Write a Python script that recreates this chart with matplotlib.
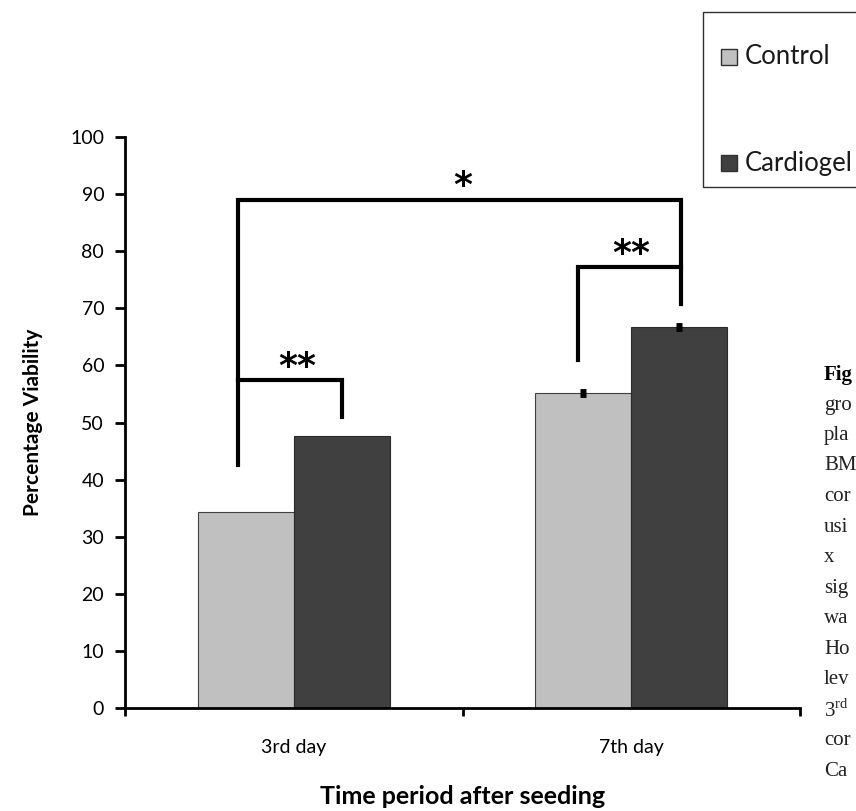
import matplotlib
matplotlib.use("Agg")
import matplotlib.pyplot as plt
import numpy as np
from matplotlib.patches import Rectangle

# values
days = ["3rd day", "7th day"]
control = [34.3, 55.2]
cardiogel = [47.6, 66.7]
control_err = [np.nan, 0.3]    # no visible error bar on day 3
cardiogel_err = [np.nan, 0.3]
yticks = [0, 10, 20, 30, 40, 50, 60, 70, 80, 90, 100]
series = ["Control", "Cardiogel"]
colors = ["#c0c0c0", "#404040"]

# truncated caption at the right edge of the source figure
caption = ["gro", "pla", "BM", "cor", "usi", "x", "sig", "wa",
           "Ho", "lev", "3$^{\\mathregular{rd}}$", "cor", "Ca"]

plt.rcParams["font.family"] = ["Lato", "DejaVu Sans"]

W, H = 856, 811
fig = plt.figure(figsize=(W / 100, H / 100), dpi=100)
ax = fig.add_axes([125 / W, 1 - 708 / H, 675 / W, 571 / H])

x = np.arange(len(days))
w = 0.285
ekw = dict(ecolor="black", capsize=2.5, elinewidth=1.5, capthick=3.5)
ax.bar(x - w / 2, control, w, color=colors[0], edgecolor="#404040", linewidth=0.8,
       yerr=control_err, error_kw=ekw)
ax.bar(x + w / 2, cardiogel, w, color=colors[1], edgecolor="#2a2a2a", linewidth=0.8,
       yerr=cardiogel_err, error_kw=ekw)

ax.set_xlim(-0.5, 1.5)
ax.set_ylim(0, 100)
ax.set_yticks(yticks)
ax.set_xticks(x)
ax.set_xticklabels(days)
ax.set_xticks([-0.5, 0.5, 1.5], minor=True)
ax.tick_params(axis="x", which="major", length=0, labelsize=14, pad=22)
ax.tick_params(axis="x", which="minor", length=6, width=2)
ax.tick_params(axis="y", length=7, width=2, labelsize=14, pad=8)
for s in ["top", "right"]:
    ax.spines[s].set_visible(False)
for s in ["left", "bottom"]:
    ax.spines[s].set_linewidth(2)

ax.set_ylabel("Percentage Viability", fontsize=15, fontweight="bold", va="center")
ax.yaxis.set_label_coords((33 - 125) / 675, 0.5)
ax.set_xlabel("Time period after seeding", fontsize=18, fontweight="bold", va="center")
ax.xaxis.set_label_coords(0.5, (708 - 797) / 571)

# significance brackets
lw = 3
ax.plot([-0.166, -0.166, 1.148, 1.148], [42.5, 89.0, 89.0, 70.8], color="black", lw=lw, solid_joinstyle="miter")
ax.plot([-0.166, 0.142, 0.142], [57.4, 57.4, 51.0], color="black", lw=lw, solid_joinstyle="miter")
ax.plot([0.843, 0.843, 1.148], [60.9, 77.2, 77.2], color="black", lw=lw, solid_joinstyle="miter")
star = dict(ha="center", va="baseline", fontsize=26, family="DejaVu Sans", fontweight="bold")
ax.text(0.01, 58.0, "**", **star)
ax.text(1.0, 77.8, "**", **star)
ax.text(0.5, 89.6, "*", **star)

# legend box, running off the right edge like in the source
fig.patches.append(Rectangle((703 / W, 1 - 187 / H), 200 / W, 175 / H, transform=fig.transFigure,
                             facecolor="white", edgecolor="#303030", linewidth=1))
for name, col, yc in zip(series, colors, [57, 163]):
    fig.patches.append(Rectangle((721 / W, 1 - (yc + 8) / H), 16 / W, 16 / H, transform=fig.transFigure,
                                 facecolor=col, edgecolor="#303030", linewidth=1))
    fig.text(745 / W, 1 - yc / H, name, fontsize=18.5, va="center", color="#1a1a1a")

fig.text(824 / W, 1 - 375 / H, "Fig", fontsize=15, fontweight="bold",
         family="Liberation Serif", va="center")
for i, word in enumerate(caption):
    fig.text(824 / W, 1 - (405 + 30.5 * i) / H, word, fontsize=15,
             family="Liberation Serif", va="center", color="#222222")

fig.savefig("out.png", dpi=100)
